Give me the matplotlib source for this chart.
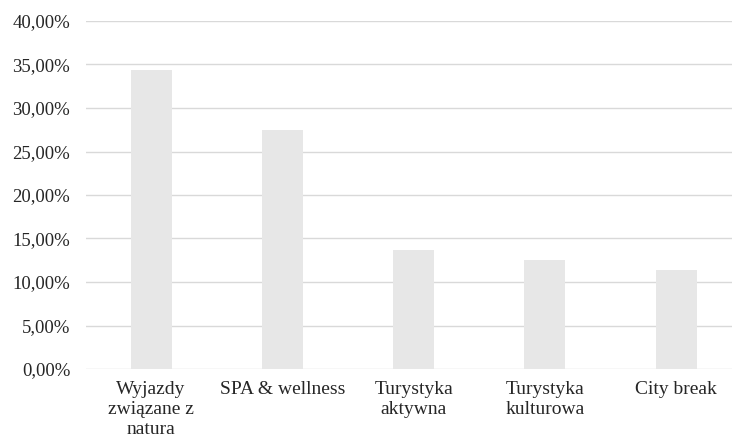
import matplotlib
matplotlib.use("Agg")
import matplotlib.pyplot as plt
from matplotlib.ticker import FuncFormatter

categories = ["Wyjazdy\nzwiązane z\nnatura", "SPA & wellness", "Turystyka\naktywna",
              "Turystyka\nkulturowa", "City break"]
values = [0.3440, 0.2745, 0.1370, 0.1250, 0.1135]

plt.rcParams['font.family'] = ['Liberation Serif', 'DejaVu Serif']
plt.rcParams['font.size'] = 13.5

W, H = 732, 442
fig = plt.figure(figsize=(W / 100, H / 100), dpi=100)
left, right, top, bottom = 85.5, 732, 21, 369
ax = fig.add_axes([left / W, (H - bottom) / H, (right - left) / W, (bottom - top) / H])

step = 131.25
x = list(range(len(categories)))
ax.bar(x, values, width=41 / step, color="#e7e7e7", zorder=2)

ax.set_xlim(-0.5, -0.5 + (right - left) / step)
ax.set_ylim(0, 0.40)
ax.set_yticks([i * 0.05 for i in range(9)])
ax.yaxis.set_major_formatter(FuncFormatter(lambda v, p: f"{v * 100:.2f}%".replace(".", ",")))
ax.set_xticks(x)
ax.set_xticklabels(categories, linespacing=1.2, fontsize=14)

ax.grid(axis="y", color="#d9d9d9", linewidth=1, zorder=0)
for s in ax.spines.values():
    s.set_visible(False)
ax.tick_params(axis="y", length=0, pad=11, colors="#262626")
ax.tick_params(axis="x", length=0, pad=9, colors="#262626")

fig.savefig("out.png", dpi=100)
